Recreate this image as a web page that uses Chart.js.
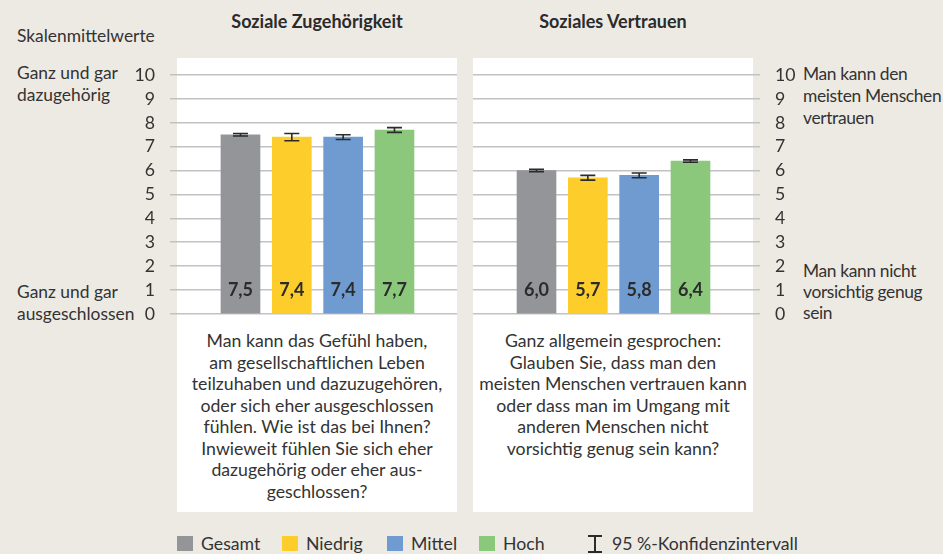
<!DOCTYPE html>
<html lang="de">
<head>
<meta charset="utf-8">
<title>Soziale Zugehörigkeit und soziales Vertrauen</title>
<script src="https://cdn.jsdelivr.net/npm/chart.js@4.4.1/dist/chart.umd.min.js"></script>
<style>
  body { margin: 0; background: #edeae3; font-family: Lato, sans-serif; color: #333; }
  #seite { position: relative; width: 943px; height: 554px; overflow: hidden; }
  .abs { position: absolute; white-space: nowrap; }
  .panel { position: absolute; top: 58px; width: 280px; height: 454px; background: #fff; }
  .titel { position: absolute; top: 9px; width: 280px; text-align: center; font-weight: bold; font-size: 18px; line-height: 24px; color: #2b2b2b; }
  .label { font-size: 17.4px; line-height: 22px; }
  .rechts { letter-spacing: -0.35px; }
  .frage { position: absolute; top: 330px; width: 280px; text-align: center; font-size: 17.7px; line-height: 21.5px; }
  canvas { position: absolute; top: 60px; }
  .quad { position: absolute; top: 536px; width: 16px; height: 15px; }
  .leg { position: absolute; top: 533px; font-size: 17.7px; line-height: 22px; }
  .ki-strich { position: absolute; background: #2b2b2b; }
</style>
</head>
<body>
<div id="seite">
  <div class="panel" style="left:177px"></div>
  <div class="panel" style="left:473px"></div>

  <div class="titel" style="left:177px">Soziale Zugehörigkeit</div>
  <div class="titel" style="left:473px">Soziales Vertrauen</div>

  <div class="abs label" style="left:17px; top:25px">Skalenmittelwerte</div>
  <div class="abs label" style="left:17px; top:62px">Ganz und gar<br>dazugehörig</div>
  <div class="abs label" style="left:17px; top:281px">Ganz und gar<br>ausgeschlossen</div>
  <div class="abs label rechts" style="left:803px; top:63px">Man kann den<br>meisten Menschen<br>vertrauen</div>
  <div class="abs label rechts" style="left:803px; top:260px; line-height:21px">Man kann nicht<br>vorsichtig genug<br>sein</div>

  <canvas id="grafik1" width="470" height="270" style="left:0"></canvas>
  <canvas id="grafik2" width="473" height="270" style="left:470px"></canvas>

  <div class="frage" style="left:177px">Man kann das Gefühl haben,<br>am gesellschaftlichen Leben<br>teilzuhaben und dazuzugehören,<br>oder sich eher ausgeschlossen<br>fühlen. Wie ist das bei Ihnen?<br>Inwieweit fühlen Sie sich eher<br>dazugehörig oder eher aus-<br>geschlossen?</div>
  <div class="frage" style="left:473px">Ganz allgemein gesprochen:<br>Glauben Sie, dass man den<br>meisten Menschen vertrauen kann<br>oder dass man im Umgang mit<br>anderen Menschen nicht<br>vorsichtig genug sein kann?</div>

  <div id="legende"></div>
</div>

<script>
// Gruppen und Farben
const gruppen = ['Gesamt', 'Niedrig', 'Mittel', 'Hoch'];
const farben = ['#939598', '#fdcd2b', '#6f9bd1', '#8bc87b'];

// Skalenmittelwerte und halbe Breite des 95%-Konfidenzintervalls
const zugehoerigkeit = [7.5, 7.4, 7.4, 7.7];
const zugehoerigkeitKI = [0.05, 0.15, 0.1, 0.1];
const vertrauen = [6.0, 5.7, 5.8, 6.4];
const vertrauenKI = [0.05, 0.1, 0.1, 0.05];

const schrift = 'Lato';

// Fehlerbalken und Werte unten in den Balken
const fehlerbalken = {
  id: 'fehlerbalken',
  afterDatasetsDraw(chart, args, opts) {
    const { ctx } = chart;
    const y = chart.scales.y;
    const meta = chart.getDatasetMeta(0);
    const daten = chart.data.datasets[0].data;
    ctx.save();
    meta.data.forEach((bar, i) => {
      const wert = daten[i].y;
      const ki = opts.ki[i];
      const oben = y.getPixelForValue(wert + ki);
      const unten = y.getPixelForValue(wert - ki);
      ctx.strokeStyle = '#2b2b2b';
      ctx.lineWidth = 1.6;
      ctx.beginPath();
      ctx.moveTo(bar.x, oben);
      ctx.lineTo(bar.x, unten);
      ctx.moveTo(bar.x - 7.5, oben);
      ctx.lineTo(bar.x + 7.5, oben);
      ctx.moveTo(bar.x - 7.5, unten);
      ctx.lineTo(bar.x + 7.5, unten);
      ctx.stroke();

      ctx.fillStyle = '#2b2b2b';
      ctx.font = 'bold 18px ' + schrift;
      ctx.textAlign = 'center';
      ctx.textBaseline = 'middle';
      ctx.fillText(wert.toFixed(1).replace('.', ','), bar.x, y.getPixelForValue(1));
    });
    ctx.restore();
  }
};

function balkenGrafik(id, werte, ki, seite, xMin, xMax, achsenBreite, padding) {
  return new Chart(document.getElementById(id), {
    type: 'bar',
    data: {
      datasets: [{
        data: werte.map((w, i) => ({ x: i + 1, y: w })),
        backgroundColor: farben,
        barThickness: 39
      }]
    },
    options: {
      responsive: false,
      animation: false,
      layout: { padding: padding },
      plugins: {
        legend: { display: false },
        tooltip: { enabled: false },
        fehlerbalken: { ki: ki }
      },
      scales: {
        x: { type: 'linear', min: xMin, max: xMax, offset: false, display: false },
        y: {
          position: seite,
          min: 0,
          max: 10,
          afterFit(scale) { scale.width = achsenBreite; },
          ticks: { stepSize: 1, autoSkip: false, padding: 0, color: '#333', font: { family: schrift, size: 17.7 } },
          // unsichtbare Tickmarken halten die Zahlen 15px vom Gitter weg
          grid: { color: '#c2c2c2', lineWidth: 1.6, drawTicks: true, tickLength: 15, tickColor: 'rgba(0,0,0,0)' },
          border: { display: false }
        }
      }
    },
    plugins: [fehlerbalken]
  });
}

balkenGrafik('grafik1', zugehoerigkeit, zugehoerigkeitKI, 'left', -0.373, 5.218, 170,
  { top: 15, bottom: 16, left: 0, right: 13 });
balkenGrafik('grafik2', vertrauen, vertrauenKI, 'right', -0.237, 5.354, 183,
  { top: 15, bottom: 16, left: 3, right: 0 });

// Legende
const legende = document.getElementById('legende');
const quadX = [177, 282, 387, 479];
gruppen.forEach((g, i) => {
  legende.insertAdjacentHTML('beforeend',
    `<div class="quad" style="left:${quadX[i]}px; background:${farben[i]}"></div>` +
    `<div class="leg" style="left:${quadX[i] + 24}px">${g}</div>`);
});
legende.insertAdjacentHTML('beforeend',
  '<div class="ki-strich" style="left:594px; top:535px; width:2px; height:18px"></div>' +
  '<div class="ki-strich" style="left:588px; top:535px; width:14px; height:2px"></div>' +
  '<div class="ki-strich" style="left:588px; top:551px; width:14px; height:2px"></div>' +
  '<div class="leg" style="left:612px">95 %-Konfidenzintervall</div>');
</script>
</body>
</html>
